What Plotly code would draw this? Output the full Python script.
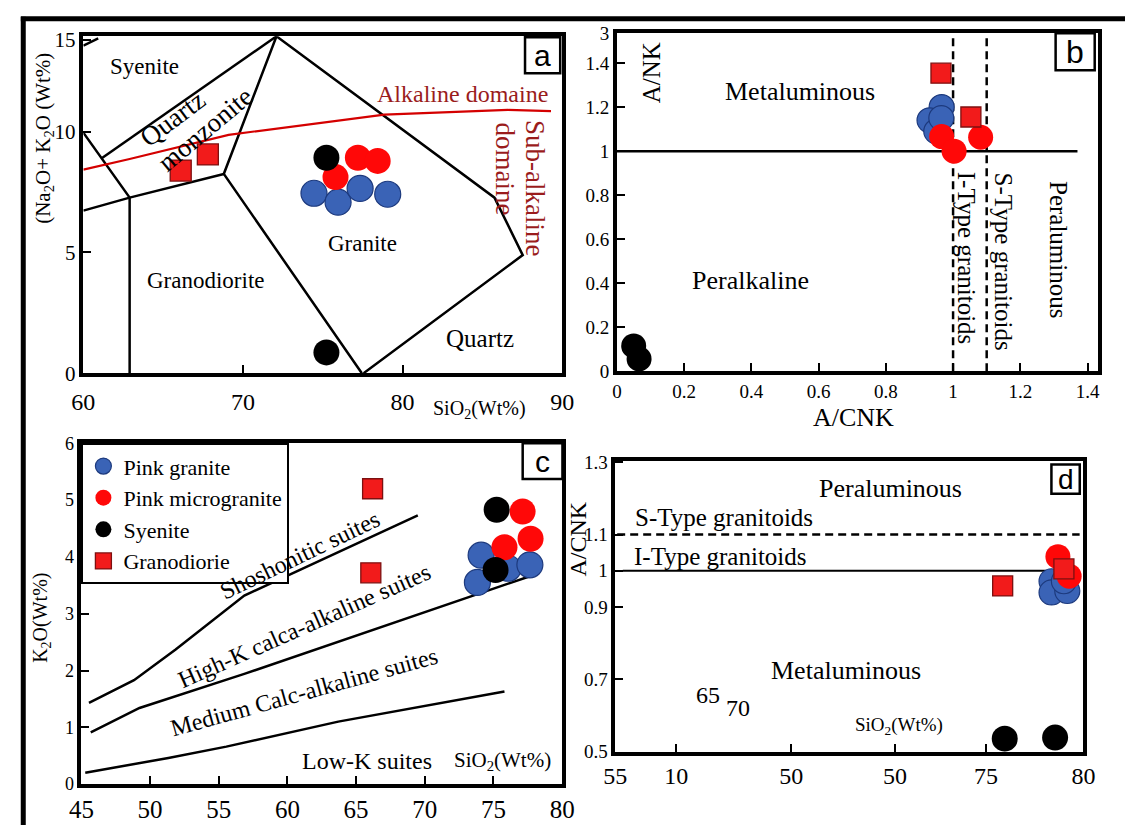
import plotly.graph_objects as go

W, H = 1138, 837
SERIF = "Liberation Serif"
SANS = "Liberation Sans"

def px(x):
    return x / W

def py(y):
    return 1 - y / H

# ---------------- data ----------------
# panel a : TAS-like diagram (SiO2 vs Na2O+K2O)
a_bound_x = [60, 60.93, None, 60, 62.9, 62.9, None, 60, 62.9, 68.8, None,
             61.15, 72.1, None, 72.1, 68.8, 77.45, None, 72.1, 85.76, 87.53, 77.56]
a_bound_y = [13.56, 13.86, None, 9.96, 7.27, 0, None, 6.73, 7.27, 8.25, None,
             8.9, 13.95, None, 13.95, 8.25, 0, None, 13.95, 7.27, 4.89, 0]
a_alk_x = [60, 62.9, 69.1, 78.86, 86.6, 89.3]
a_alk_y = [8.43, 8.87, 9.87, 10.71, 10.9, 10.85]
a_pg_x = [74.45, 75.96, 77.34, 79.07]
a_pg_y = [7.45, 7.08, 7.65, 7.41]
a_pm_x = [77.2, 78.44, 75.8]
a_pm_y = [8.92, 8.79, 8.12]
a_sy_x = [75.23, 75.23]
a_sy_y = [8.92, 0.86]
a_gd_x = [66.1, 67.8]
a_gd_y = [8.39, 9.06]
a_xticks = [60, 70, 80, 90]
a_xlabels = ["60", "70", "80", "90"]
a_yticks = [0, 5, 10, 13.8]
a_ylabels = ["0", "5", "10", "15"]

# panel b : A/CNK vs A/NK
b_hline_x = [0, 1.37]
b_hline_y = [1, 1]
b_v1_x = [1.0, 1.0]
b_v2_x = [1.1, 1.1]
b_v_y = [0, 1.535]
b_pg_x = [0.966, 0.93, 0.95, 0.965]
b_pg_y = [1.20, 1.14, 1.09, 1.15]
b_pm_x = [0.966, 1.003, 1.082]
b_pm_y = [1.066, 1.0, 1.063]
b_sy_x = [0.05, 0.066]
b_sy_y = [0.115, 0.056]
b_gd_x = [0.964, 1.053]
b_gd_y = [1.354, 1.155]
b_xticks = [0, 0.2, 0.4, 0.6, 0.8, 1.0, 1.2, 1.4]
b_xlabels = ["0", "0.2", "0.4", "0.6", "0.8", "1", "1.2", "1.4"]
b_yticks = [0, 0.2, 0.4, 0.6, 0.8, 1.0, 1.2, 1.4, 1.535]
b_ylabels = ["0", "0.2", "0.4", "0.6", "0.8", "1", "1.2", "1.4", "3"]

# panel c : SiO2 vs K2O
c_sho_x = [45.55, 48.83, 51.86, 56.86, 69.49]
c_sho_y = [1.43, 1.83, 2.37, 3.32, 4.73]
c_hk_x = [45.68, 49.23, 56.86, 77.65]
c_hk_y = [0.91, 1.34, 1.94, 3.66]
c_lk_x = [45.28, 51.33, 55.55, 63.7, 75.8]
c_lk_y = [0.2, 0.46, 0.66, 1.1, 1.63]
c_pg_x = [74.1, 73.83, 76.07, 77.65]
c_pg_y = [4.03, 3.55, 3.80, 3.86]
c_pm_x = [77.12, 75.8, 77.7]
c_pm_y = [4.80, 4.17, 4.32]
c_sy_x = [75.23, 75.15]
c_sy_y = [4.83, 3.77]
c_gd_x = [66.2, 66.07]
c_gd_y = [5.2, 3.72]
c_xticks = [45, 50, 55, 60, 65, 70, 75, 80]
c_xlabels = ["45", "50", "55", "60", "65", "70", "75", "80"]
c_yticks = [0, 1, 2, 3, 4, 5, 6]
c_ylabels = ["0", "1", "2", "3", "4", "5", "6"]

# panel d : SiO2 vs A/CNK
d_dash_x = [55.1, 79.8]
d_dash_y = [1.1, 1.1]
d_solid_x = [55.4, 78.0]
d_solid_y = [1.0, 1.0]
d_pg_x = [78.3, 78.3, 79.14, 78.96]
d_pg_y = [0.971, 0.94, 0.944, 0.971]
d_pm_x = [78.64, 79.24]
d_pm_y = [1.039, 0.985]
d_sy_x = [75.8, 78.49]
d_sy_y = [0.536, 0.539]
d_gd_x = [75.69, 78.96]
d_gd_y = [0.958, 1.005]
d_xticks = [55, 58.25, 64.4, 69.94, 74.8, 80]
d_xlabels = ["55", "10", "50", "50", "75", "80"]
d_yticks = [0.5, 0.7, 0.9, 1.0, 1.1, 1.3]
d_ylabels = ["0.5", "0.7", "0.9", "1", "1.1", "1.3"]

groups = ["Pink granite", "Pink microgranite", "Syenite", "Granodiorie"]

# ---------------- styles ----------------
BLUE = "#3a63b6"
BLUE_LINE = "#1d3a7e"
RED = "#ff0808"
SQ = "#f21b1b"
SQ_LINE = "#7d1010"
DARKRED = "#9a1c1c"

styles = {
    "Pink granite": dict(symbol="circle", color=BLUE, line=dict(color=BLUE_LINE, width=1.2)),
    "Pink microgranite": dict(symbol="circle", color=RED, line=dict(color=RED, width=0)),
    "Syenite": dict(symbol="circle", color="black", line=dict(color="black", width=0)),
    "Granodiorie": dict(symbol="square", color=SQ, line=dict(color=SQ_LINE, width=1.3)),
}

fig = go.Figure()

def line(xs, ys, ax, width=2.5, color="black", dash="solid"):
    fig.add_trace(go.Scatter(x=xs, y=ys, mode="lines", xaxis="x" + ax, yaxis="y" + ax,
                             line=dict(color=color, width=width, dash=dash),
                             showlegend=False, hoverinfo="skip", connectgaps=False))

def pts(xs, ys, ax, name, csize, ssize, legend=False):
    st = styles[name]
    size = ssize if st["symbol"] == "square" else csize
    fig.add_trace(go.Scatter(x=xs, y=ys, mode="markers", xaxis="x" + ax, yaxis="y" + ax,
                             name=name, showlegend=legend,
                             marker=dict(symbol=st["symbol"], size=size, color=st["color"],
                                         line=st["line"], opacity=1)))

# panel a
line(a_bound_x, a_bound_y, "")
line(a_alk_x, a_alk_y, "", width=2.2, color="#d40000")
pts(a_pg_x, a_pg_y, "", "Pink granite", 26, 21)
pts(a_pm_x, a_pm_y, "", "Pink microgranite", 26, 21)
pts(a_sy_x, a_sy_y, "", "Syenite", 26, 21)
pts(a_gd_x, a_gd_y, "", "Granodiorie", 26, 21)

# panel b
line(b_hline_x, b_hline_y, "2", width=2.5)
line(b_v1_x, b_v_y, "2", width=2.5, dash="8px,5px")
line(b_v2_x, b_v_y, "2", width=2.5, dash="8px,5px")
pts(b_pg_x, b_pg_y, "2", "Pink granite", 25, 20)
pts(b_pm_x, b_pm_y, "2", "Pink microgranite", 25, 20)
pts(b_sy_x, b_sy_y, "2", "Syenite", 25, 20)
pts(b_gd_x, b_gd_y, "2", "Granodiorie", 25, 20)

# panel c
line(c_sho_x, c_sho_y, "3")
line(c_hk_x, c_hk_y, "3")
line(c_lk_x, c_lk_y, "3")
pts(c_pg_x, c_pg_y, "3", "Pink granite", 26, 20, legend=True)
pts(c_pm_x, c_pm_y, "3", "Pink microgranite", 26, 20, legend=True)
pts(c_sy_x, c_sy_y, "3", "Syenite", 26, 20, legend=True)
pts(c_gd_x, c_gd_y, "3", "Granodiorie", 26, 20, legend=True)

# panel d
line(d_dash_x, d_dash_y, "4", width=2.5, dash="8px,5px")
line(d_solid_x, d_solid_y, "4", width=2.2)
pts(d_pg_x, d_pg_y, "4", "Pink granite", 25, 20)
pts(d_pm_x, d_pm_y, "4", "Pink microgranite", 25, 20)
pts(d_sy_x, d_sy_y, "4", "Syenite", 26, 20)
pts(d_gd_x, d_gd_y, "4", "Granodiorie", 25, 20)


def axis(dom, rng, tv, tt, fsize, anchor, standoff=None):
    d = dict(domain=dom, range=rng, tickvals=tv, ticktext=tt, anchor=anchor,
             showline=True, mirror=True, linecolor="black", linewidth=3.5,
             ticks="inside", ticklen=8, tickwidth=2, tickcolor="black",
             showgrid=False, zeroline=False, fixedrange=True,
             tickfont=dict(family=SERIF, size=fsize, color="black"))
    if standoff is not None:
        d["ticklabelstandoff"] = standoff
    return d

layout = dict(
    width=W, height=H, autosize=False,
    margin=dict(l=0, r=0, t=0, b=0),
    paper_bgcolor="white", plot_bgcolor="white",
    xaxis=axis([px(72), px(562)], [60, 90], a_xticks, a_xlabels, 24, "y", 4),
    yaxis=axis([py(373), py(27)], [0, 13.95], a_yticks, a_ylabels, 21, "x"),
    xaxis2=axis([px(618), px(1110)], [0, 1.43], b_xticks, b_xlabels, 19, "y2"),
    yaxis2=axis([py(371), py(24)], [0, 1.535], b_yticks, b_ylabels, 19, "x2"),
    xaxis3=axis([px(70), px(562)], [45, 80], c_xticks, c_xlabels, 25, "y3"),
    yaxis3=axis([py(795), py(445)], [0, 6], c_yticks, c_ylabels, 18, "x3"),
    xaxis4=axis([px(616.4), px(1095.4)], [55, 80], d_xticks, d_xlabels, 24, "y4"),
    yaxis4=axis([py(761.7), py(463.3)], [0.5, 1.303], d_yticks, d_ylabels, 19, "x4"),
    legend=dict(x=px(70), y=py(445), xanchor="left", yanchor="top",
                bordercolor="black", borderwidth=2, bgcolor="white",
                font=dict(family=SERIF, size=22, color="black"),
                tracegroupgap=0, itemsizing="trace"),
)
fig.update_layout(**layout)

ann = []

def txt(x, y, s, size, angle=0, color="black", family=SERIF):
    ann.append(dict(x=px(x), y=py(y), xref="paper", yref="paper", text=s,
                    showarrow=False, xanchor="center", yanchor="middle",
                    textangle=angle, font=dict(family=family, size=size, color=color)))

# panel a texts
txt(134.5, 58, "Syenite", 23)
txt(163, 112, "Quartz", 27, -37)
txt(197, 122, "monzonite", 27, -40)
txt(460, 86, "Alkaline domaine", 24, 0, DARKRED)
txt(534.5, 183, "Sub-alkaline", 27, 90, DARKRED)
txt(503.6, 163, "domaine", 27, 90, DARKRED)
txt(358, 240, "Granite", 23)
txt(198, 278, "Granodiorite", 23)
txt(478, 337, "Quartz", 25)
txt(477, 410, "SiO<sub>2</sub>(Wt%)", 20)
txt(31, 132, "(Na<sub>2</sub>O+ K<sub>2</sub>O (Wt%)", 21, -90)

# panel b texts
txt(653, 65, "A/NK", 25, -90)
txt(805.5, 84, "Metaluminous", 26)
txt(754.8, 278, "Peralkaline", 26)
txt(975.8, 255, "I-Type granitoids", 25, 90)
txt(1013.8, 258, "S-Type granitoids", 25, 90)
txt(1070, 246, "Peraluminous", 25, 90)
txt(860, 418, "A/CNK", 26)

# panel c texts
txt(294, 560, "Shoshonitic suites", 24, -25.7)
txt(298, 633, "High-K calca-alkaline suites", 24, -23.9)
txt(298, 700, "Medium Calc-alkaline suites", 24, -15.5)
txt(362.6, 771.7, "Low-K suites", 24)
txt(501.3, 771.7, "SiO<sub>2</sub>(Wt%)", 21)
txt(28.9, 624, "K<sub>2</sub>O(Wt%)", 20, -90)

# panel d texts
txt(897.9, 491.7, "Peraluminous", 26)
txt(727.6, 520.7, "S-Type granitoids", 25)
txt(724, 561.7, "I-Type granitoids", 25)
txt(852.6, 678.3, "Metaluminous", 26)
txt(711.3, 703.3, "65", 24)
txt(742, 716.7, "70", 24)
txt(907, 735, "SiO<sub>2</sub>(Wt%)", 19)
txt(578, 543, "A/CNK", 24, -90)

# panel letters
letters = [("a", 524, 28, 560, 65, 30), ("b", 1067, 24, 1107, 62, 32),
           ("c", 521.6, 445, 562.3, 481.7, 30), ("d", 1062.7, 466.7, 1091.7, 496.7, 28)]
shapes = []
for lab, x0, y0, x1, y1, fs in letters:
    shapes.append(dict(type="rect", xref="paper", yref="paper", x0=px(x0), x1=px(x1),
                       y0=py(y1), y1=py(y0), line=dict(color="black", width=2.5),
                       fillcolor="white", layer="above"))
    txt((x0 + x1) / 2, (y0 + y1) / 2, lab, fs, 0, "black", SANS)

# outer frame lines
shapes.append(dict(type="line", xref="paper", yref="paper", x0=px(8), x1=1,
                   y0=py(9), y1=py(9), line=dict(color="black", width=5)))
shapes.append(dict(type="line", xref="paper", yref="paper", x0=px(10.5), x1=px(10.5),
                   y0=py(7), y1=0, line=dict(color="black", width=5)))

fig.update_layout(annotations=ann, shapes=shapes)
fig.write_html("out.html")
